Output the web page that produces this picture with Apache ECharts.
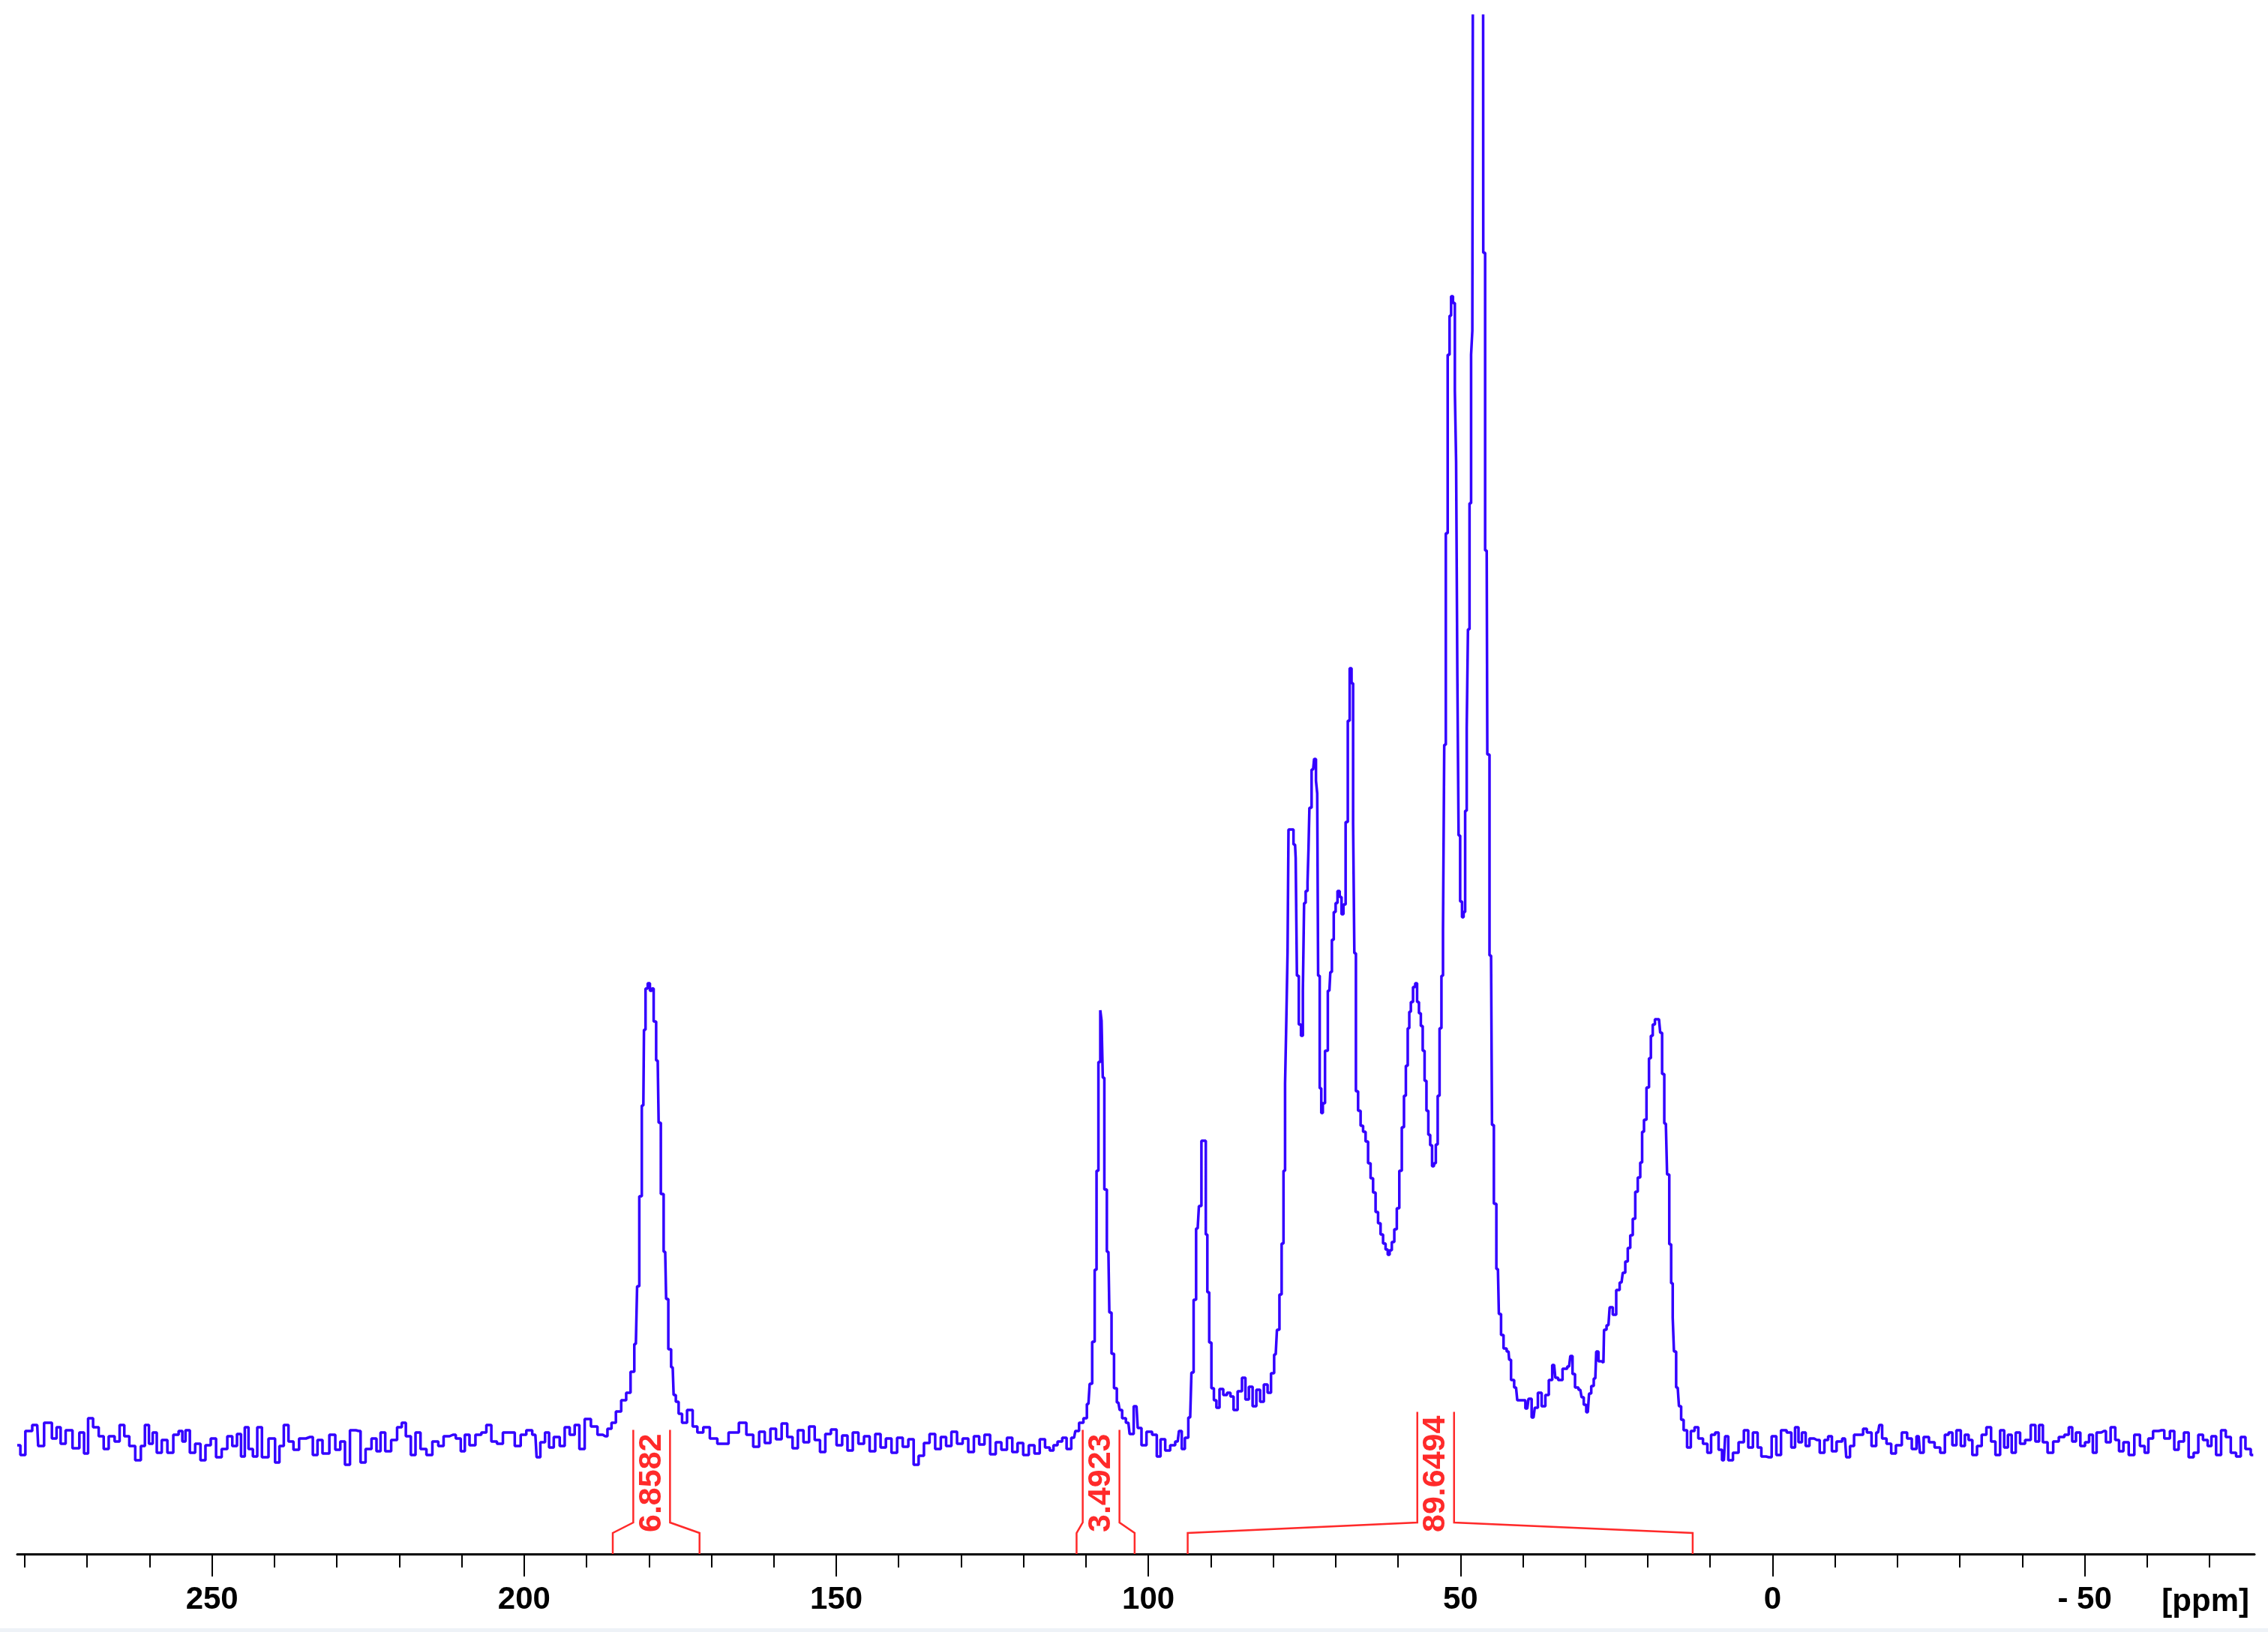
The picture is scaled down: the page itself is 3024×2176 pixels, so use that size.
<!DOCTYPE html>
<html>
<head>
<meta charset="utf-8">
<script src="https://cdn.jsdelivr.net/npm/echarts@6/dist/echarts.min.js"></script>
<style>
  html, body { margin: 0; padding: 0; background: #fff; }
  #chart { width: 3024px; height: 2176px; }
</style>
</head>
<body>
<div id="chart"></div>
<script>
// spectrum, [ppm, intensity] pairs (baseline = 0)
const baselineLeft = [
  [281.2,-0.6],[280.2,-1.9],[279.6,1.3],[278.0,2.1],[277.7,-0.7],[276.1,2.4],[275.2,0.3],[274.6,1.8],[273.9,-0.4],[273.0,1.4],
  [271.7,-1.0],[270.8,1.1],[270.2,-1.7],[269.5,3.0],[268.6,1.8],[267.7,0.6],[267.0,-1.1],[266.1,0.6],[265.1,-0.1],[264.5,2.1],
  [263.6,0.6],[262.9,-0.7],[261.7,-2.6],[261.1,-0.7],[260.4,2.1],[259.8,-0.4],[259.2,1.1],[258.5,-1.6],[257.6,0.1],[256.7,-1.6],
  [255.7,0.8],[255.0,1.3],[254.5,-0.1],[254.0,1.4],[253.1,-1.6],[252.3,-0.4],[251.4,-2.6],[250.7,-0.6],[249.7,0.3],[249.0,-2.2],
  [247.9,-1.1],[247.2,0.6],[246.3,-0.7],[245.7,0.9],[245.0,-2.1],[244.5,1.8],[243.8,-1.1],[243.1,-2.1],[242.4,1.8],[241.6,-2.2],
  [240.3,0.3],[239.5,-2.9],[238.9,-0.7],[238.1,2.1],[237.4,-0.1],[236.5,-1.2],[235.6,0.3],[234.3,0.5],[233.4,-1.9],[232.8,0.1],
  [231.8,-1.7],[230.6,0.8],[229.9,-1.2],[229.0,-0.1],[228.4,-3.2],[227.4,1.4],[226.5,1.3],[225.9,-2.9],[224.9,-1.1],[224.0,0.3],
  [223.3,-1.4],[222.7,1.1],[221.8,-1.4],[220.8,0.1],[219.9,1.8],[219.3,2.4],[218.6,0.6],[217.7,-1.9],[217.1,1.1],[216.1,-1.1],
  [215.2,-1.9],[214.2,-0.1],[213.3,-0.7],[212.5,0.6],[211.4,0.8],[210.5,0.3],[209.8,-1.4],[209.2,0.8],[208.3,-0.6],[207.3,0.8],
  [206.4,1.1],[205.7,2.1],[204.8,-0.1],[203.9,-0.4],[202.9,1.1],[202.0,1.1],[201.0,-0.7],[200.1,0.8],[199.2,1.4],[198.2,0.8],
  [197.8,-2.2],[197.0,-0.2],[196.3,1.1],[195.7,-0.9],[194.8,0.5],[193.8,-0.7],[193.2,1.8],[192.2,0.8],[191.6,2.1],[190.7,-1.1]
];
const carbonylPeak = [
  [189.9,2.9],[188.7,1.9],[187.8,0.8],[187.0,0.6],[186.3,1.6],[185.7,2.4],[184.9,3.9],[184.0,5.4],[183.3,6.4],[182.6,9.2],
  [182.1,12.9],[181.7,20.6],[181.4,32.6],[180.9,44.7],[180.7,54.8],[180.4,60.3],[180.0,61.0],[179.7,60.0],[179.4,60.3],[179.1,55.9],
  [178.6,50.7],[178.3,42.4],[177.9,32.9],[177.4,25.2],[177.1,18.9],[176.7,12.2],[176.2,9.8],[175.9,6.1],[175.5,5.2],[175.0,3.6],
  [174.4,2.4],[173.4,4.1],[172.6,1.9],[171.9,1.1],[170.7,1.8],[169.8,0.3],[168.3,-0.4],[166.2,1.1],[165.0,2.4],[163.8,0.8]
];
const baselineMid = [
  [162.8,-0.8],[161.9,1.2],[161.0,-0.3],[160.1,1.6],[159.2,0.2],[158.3,2.3],[157.4,0.5],[156.6,-1.0],[155.7,1.4],[154.8,-0.2],
  [153.9,1.9],[153.0,0.1],[152.2,-1.5],[151.3,0.9],[150.4,1.5],[149.5,-0.6],[148.6,0.7],[147.8,-1.3],[146.9,1.1],[146.0,-0.4],
  [145.1,0.6],[144.2,-1.4],[143.3,0.9],[142.5,-0.9],[141.6,0.3],[140.7,-1.6],[139.8,0.4],[138.9,-0.8],[138.0,0.2],[137.2,-3.2],
  [136.4,-2.0],[135.5,-0.3],[134.6,0.9],[133.7,-1.1],[132.8,0.5],[132.0,-0.7],[131.1,1.2],[130.2,-0.4],[129.3,0.3],[128.4,-1.5],
  [127.5,0.6],[126.7,-0.5],[125.8,0.8],[124.9,-1.8],[124.0,-0.2],[123.1,-1.2],[122.2,0.4],[121.4,-1.5],[120.5,-0.3],[119.6,-1.9],
  [118.7,-0.6],[117.8,-1.7],[117.0,0.2],[116.1,-0.9],[115.5,-1.3]
];
const anomericPeak = [
  [114.9,-0.6],[114.2,-0.1],[113.4,0.4],[112.8,-1.1],[111.9,0.4],[111.5,1.3],[110.7,2.4],[110.1,3.0],[109.6,4.9],[109.2,7.6],
  [108.8,13.2],[108.4,22.8],[108.2,36.0],[107.8,50.5],[107.6,57.4],[107.4,56.0],[107.2,48.4],[106.9,33.5],[106.4,25.2],[106.1,17.1],
  [105.7,11.6],[105.3,7.0],[104.8,5.1],[104.4,4.1],[104.0,3.0],[103.2,2.4],[102.8,0.9],[101.9,4.6],[101.5,1.7],[100.7,-0.6],
  [99.9,1.2],[98.9,0.8],[98.4,-2.1],[97.7,0.2],[96.9,-1.3],[96.1,-0.6],[95.3,-0.1],[94.9,1.3],[94.4,-1.1],[93.9,0.4],
  [93.3,3.1],[92.9,9.1],[92.6,18.8],[92.1,28.3],[91.7,31.3],[91.3,40.0],[90.9,40.0],[90.7,27.5],[90.4,19.8],[90.1,13.1],
  [89.7,7.0],[89.3,5.4],[88.9,4.4],[88.3,6.9],[87.7,6.1],[87.1,6.4],[86.6,5.9],[86.1,4.1],[85.3,6.6],[84.7,8.4]
];
const aliphaticCluster = [
  [84.2,5.5],[83.6,7.2],[83.0,4.6],[82.4,6.8],[81.8,5.2],[81.2,7.5],[80.6,6.4],[80.1,9.0],[79.6,11.5],[79.2,14.8],
  [78.8,19.5],[78.5,26.3],[78.2,36.0],[78.0,47.6],[77.8,56.0],[77.6,65.2],[77.5,81.5],[77.0,81.5],[76.5,79.5],[76.3,77.7],
  [76.1,62.0],[75.7,55.5],[75.4,54.0],[75.1,60.0],[75.0,71.7],[74.6,73.3],[74.4,74.5],[74.3,78.8],[74.1,84.4],[73.6,89.5],
  [73.3,90.9],[73.0,88.0],[72.9,86.3],[72.7,62.0],[72.4,47.0],[72.2,43.7],[71.9,45.0],[71.5,52.0],[71.0,60.0],[70.7,62.5],
  [70.5,66.8],[70.1,70.5],[69.9,71.7],[69.5,73.3],[69.2,72.5],[68.9,70.2],[68.6,71.5],[68.2,82.5],[67.9,96.0],[67.6,103.0],
  [67.3,101.0],[67.1,82.3],[66.9,65.0],[66.6,46.6],[66.2,44.0],[65.8,42.0],[65.4,41.2],[65.0,39.9],[64.6,37.0],[64.2,35.0],
  [63.8,33.1],[63.4,30.5],[63.0,29.0],[62.6,27.5],[62.2,26.3],[61.8,25.5],[61.5,24.8],[61.2,25.4],[60.8,26.5],[60.4,28.2],
  [60.0,31.0],[59.6,36.0],[59.2,41.8],[58.9,46.0],[58.6,50.0],[58.3,55.0],[58.1,57.2],[57.8,58.5],[57.4,60.5],[57.1,61.0],
  [56.8,58.5],[56.5,57.0],[56.2,55.3],[55.9,52.0],[55.6,48.0],[55.3,44.0],[55.0,40.8],[54.7,39.4],[54.4,36.6],[54.1,37.0],
  [53.8,39.5],[53.5,46.0],[53.2,55.0],[52.9,62.0],[52.7,68.1],[52.5,92.8],[52.2,121.0],[51.9,144.8],[51.6,150.0],[51.4,152.6],
  [51.0,151.7],[50.8,140.0],[50.6,130.6],[50.4,102.0],[50.2,80.7],[49.9,71.9],[49.6,69.8],[49.4,70.5],[49.1,84.0],[48.9,95.0],
  [48.7,108.2],[48.4,125.0],[48.2,144.8],[48.0,148.0],[47.9,230.0],[46.4,230.0],[46.3,158.4],[45.8,118.7],[45.6,91.5],[45.1,64.7],
  [44.8,42.1],[44.5,31.6],[44.0,22.9],[43.7,16.9],[43.3,14.1],[42.9,12.3],[42.3,11.9],[42.1,10.8],[41.7,8.1],[41.1,7.1],
  [40.7,5.4],[39.9,5.4],[39.3,4.3],[38.9,5.6],[38.3,3.1],[37.9,4.4],[37.3,6.4],[36.7,4.6],[36.1,6.1],[35.6,8.1],
  [35.0,10.1],[34.6,8.4],[34.1,8.1],[33.2,9.6],[32.6,9.9],[32.2,11.3],[31.9,8.9],[31.4,7.1],[30.8,6.8],[30.4,5.8],
  [30.1,4.8],[29.6,3.8],[29.2,6.3],[28.9,7.3],[28.4,8.3],[28.1,11.9],[27.7,10.6],[27.1,10.4],[26.9,14.8],[26.3,15.4],
  [25.9,17.8],[25.3,16.8],[24.8,20.1],[24.2,21.1],[23.8,22.4],[23.4,23.9],[23.0,25.7],[22.6,27.4],[22.2,29.6],[21.8,33.2],
  [21.4,35.1],[21.0,37.1],[20.8,41.2],[20.4,42.8],[20.0,47.1],[19.6,51.0],[19.4,54.0],[19.0,55.5],[18.7,56.2],[18.2,56.2],
  [17.8,54.4],[17.6,48.9],[17.1,42.3],[16.7,35.5],[16.4,26.2],[16.1,21.0],[15.9,16.4],[15.7,11.9],[15.2,7.1],[14.8,4.6],
  [14.5,2.8],[14.0,1.4],[13.4,-0.9]
];
const baselineRight = [
  [12.8,1.3],[12.2,1.8],[11.6,0.3],[10.7,-0.4],[10.2,-1.6],[9.5,0.8],[8.9,1.1],[8.4,-1.2],[7.8,-2.6],[7.4,0.6],
  [6.8,-2.6],[5.9,-1.6],[5.0,-0.2],[4.2,1.4],[3.6,-0.9],[2.7,1.1],[2.1,-0.9],[1.5,-2.1],[0.6,-2.2],[-0.3,0.6],
  [-0.9,-1.9],[-1.8,1.4],[-2.7,1.1],[-3.3,-0.9],[-3.9,1.8],[-4.4,-0.2],[-5.0,1.1],[-5.6,-0.7],[-6.2,0.3],[-7.1,0.1],
  [-8.0,-1.6],[-8.6,0.1],[-9.2,0.6],[-9.8,-1.4],[-10.7,-0.1],[-11.6,0.3],[-12.0,-2.2],[-12.8,-0.7],[-13.3,0.8],[-14.2,0.8],
  [-14.8,1.6],[-15.4,1.1],[-16.3,-0.7],[-16.9,1.1],[-17.3,2.1],[-17.8,0.3],[-18.7,-0.4],[-19.3,-1.7],[-20.2,-0.6],[-21.2,1.1],
  [-21.9,0.3],[-22.7,-1.1],[-23.4,0.6],[-23.8,-1.6],[-24.6,0.5],[-25.5,-0.2],[-26.4,-0.9],[-27.3,-1.6],[-27.9,0.8],[-28.5,1.1],
  [-29.1,-0.6],[-29.8,1.4],[-30.5,-0.7],[-31.1,0.8],[-31.7,0.1],[-32.3,-1.9],[-33.2,-0.7],[-33.8,0.8],[-34.7,1.8],[-35.3,-0.1],
  [-36.1,-1.9],[-36.8,1.4],[-37.4,-0.9],[-38.0,0.8],[-38.6,-1.6],[-39.3,1.1],[-40.0,-0.4],[-40.9,0.1],[-41.8,2.1],[-42.4,-0.1],
  [-43.0,2.1],[-43.6,-0.2],[-44.5,-1.6],[-45.4,-0.1],[-46.3,0.5],[-47.2,0.8],[-47.7,1.8],[-48.3,-0.1],[-48.9,1.1],[-49.7,-0.7],
  [-50.4,-0.2],[-51.0,0.8],[-51.6,-1.6],[-52.2,1.1],[-53.1,1.3],[-53.7,-0.2],[-54.6,1.8],[-55.2,0.1],[-55.8,-1.4],[-56.6,-0.2],
  [-57.5,-1.9],[-58.4,0.8],[-59.3,-0.7],[-59.9,-1.6],[-60.5,0.3],[-61.4,1.3],[-62.3,1.4],[-63.2,0.3],[-64.1,1.3],[-64.6,-1.2],
  [-65.5,-0.1],[-66.3,1.1],[-67.0,-2.2],[-67.9,-1.6],[-68.5,0.8],[-69.4,0.1],[-70.0,-0.7],[-70.6,0.6],[-71.5,-1.9],[-72.2,1.4],
  [-73.0,0.5],[-73.8,-1.6],[-74.7,-2.1],[-75.3,0.5],[-76.2,-1.1],[-77.0,-1.9]
];

// integrals
const integralFrom = [185.8, 111.5, 93.7];
const integralTo = [171.9, 102.2, 12.8];
const integralValues = ['6.8582', '3.4923', '89.6494'];

// axis ticks
const minorTickValues = [280, 270, 260, 250, 240, 230, 220, 210, 200, 190, 180, 170, 160, 150, 140, 130, 120, 110, 100,
  90, 80, 70, 60, 50, 40, 30, 20, 10, 0, -10, -20, -30, -40, -50, -60, -70];
const majorTickValues = [250, 200, 150, 100, 50, 0, -50];

const spectrum = [].concat(baselineLeft, carbonylPeak, baselineMid, anomericPeak, aliphaticCluster, baselineRight);

const BLUE = '#3300ff';
const RED = '#ff2a2a';
const FONT = '"Liberation Sans", Arial, sans-serif';
const INT_FONT_SIZE = 43;

const measureCtx = document.createElement('canvas').getContext('2d');
measureCtx.font = 'bold ' + INT_FONT_SIZE + 'px ' + FONT;

const chart = echarts.init(document.getElementById('chart'));

chart.setOption({
  animation: false,
  backgroundColor: '#fff',
  grid: { left: 23, right: 18, top: 21, bottom: 104 },
  xAxis: [
    {
      type: 'value', inverse: true, min: -77.2, max: 281.2, position: 'bottom',
      axisLine: { show: true, onZero: false, lineStyle: { color: '#000', width: 3 } },
      axisTick: { show: true, length: 18, customValues: minorTickValues, lineStyle: { color: '#000', width: 2 } },
      axisLabel: { show: false },
      splitLine: { show: false }
    },
    {
      type: 'value', inverse: true, min: -77.2, max: 281.2, position: 'bottom',
      axisLine: { show: false, onZero: false },
      axisTick: { show: true, length: 30, customValues: majorTickValues, lineStyle: { color: '#000', width: 2 } },
      axisLabel: {
        customValues: majorTickValues,
        formatter: v => v < 0 ? '- ' + Math.abs(v) : String(v),
        color: '#000', fontFamily: FONT, fontWeight: 'bold', fontSize: 42, margin: 40
      },
      splitLine: { show: false }
    }
  ],
  yAxis: { type: 'value', min: -15.1, max: 190, show: false },
  graphic: [
    {
      type: 'text', x: 2999, y: 2136,
      style: { text: '[ppm]', fill: '#000', fontFamily: FONT, fontWeight: 'bold', fontSize: 42, align: 'right', verticalAlign: 'middle' }
    },
    { type: 'rect', shape: { x: 0, y: 2171, width: 3024, height: 5 }, style: { fill: '#eef2f7' } }
  ],
  series: [
    {
      type: 'line',
      data: spectrum,
      showSymbol: false,
      symbol: 'none',
      step: 'middle',
      clip: true,
      lineStyle: { color: BLUE, width: 3.5 }
    },
    {
      type: 'custom',
      data: integralFrom.map((f, i) => [f, integralTo[i], i]),
      renderItem: function (params, api) {
        const xL = api.coord([api.value(0), 0])[0];
        const xR = api.coord([api.value(1), 0])[0];
        const label = integralValues[api.value(2)];
        const cs = params.coordSys;
        const axisY = cs.y + cs.height;
        const textLen = measureCtx.measureText(label).width;
        const xc = (xL + xR) / 2 - 6;
        const half = 24.5;
        const endTop = axisY - 28;
        const shoulder = axisY - 42;
        const textBottom = axisY - 29;
        const tabTop = textBottom - textLen - 5;
        const lineStyle = { stroke: RED, lineWidth: 2.5, fill: null };
        return {
          type: 'group',
          children: [
            { type: 'polyline', shape: { points: [[xL, axisY], [xL, endTop], [xc - half, shoulder], [xc - half, tabTop]] }, style: lineStyle },
            { type: 'polyline', shape: { points: [[xc + half, tabTop], [xc + half, shoulder], [xR, endTop], [xR, axisY]] }, style: lineStyle },
            {
              type: 'text', x: xc, y: textBottom, rotation: Math.PI / 2,
              style: { text: label, fill: RED, fontFamily: FONT, fontWeight: 'bold', fontSize: INT_FONT_SIZE, align: 'left', verticalAlign: 'middle' }
            }
          ]
        };
      }
    }
  ]
});

window.addEventListener('resize', () => chart.resize());
</script>
</body>
</html>
